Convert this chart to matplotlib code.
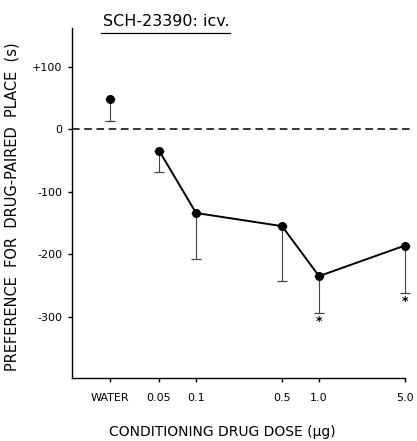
import matplotlib
matplotlib.use("Agg")
import matplotlib.pyplot as plt
import numpy as np

# Data
tick_labels = ["WATER", "0.05", "0.1", "0.5", "1.0", "5.0"]
water_pos = [0.02]
water_mean = [48]
water_low = [14]
doses = [0.05, 0.1, 0.5, 1.0, 5.0]
dose_mean = [-34, -134, -155, -235, -186]
dose_low = [-69, -208, -243, -294, -262]
significant = [1.0, 5.0]
yticks = [100, 0, -100, -200, -300]
ytick_labels = ["+100", "0", "-100", "-200", "-300"]

plt.rcParams['font.family'] = ['DejaVu Sans']

fig = plt.figure(figsize=(4.17, 4.41), dpi=100)
ax = fig.add_axes([72/417, 63/441, 340/417, 350/441])
ax.set_xscale('log')
ax.set_xlim(0.0098, 5.7)
ax.set_ylim(-398, 162)

# zero dashed line
ax.axhline(0, color='black', lw=1.1, ls=(0, (5, 3)), zorder=1)

# error bars (lower only)
all_x = water_pos + doses
all_m = water_mean + dose_mean
all_l = water_low + dose_low
err_low = [m - l for m, l in zip(all_m, all_l)]
ax.errorbar(all_x, all_m, yerr=[err_low, [0]*len(err_low)], fmt='none',
            ecolor='#444444', elinewidth=0.8, capsize=3.5, capthick=0.9, zorder=2)

ax.plot(water_pos, water_mean, 'o', color='black', ms=5.5, zorder=3)
ax.plot(doses, dose_mean, '-o', color='black', ms=5.5, lw=1.4, zorder=3)

for d in significant:
    i = doses.index(d)
    ax.annotate('*', (d, dose_low[i]), xytext=(0, -6), textcoords='offset points',
                ha='center', va='center', fontsize=9, fontweight='bold')

ax.set_xticks(all_x)
ax.set_xticklabels(tick_labels, fontsize=8)
ax.xaxis.set_minor_locator(matplotlib.ticker.NullLocator())
ax.set_yticks(yticks)
ax.set_yticklabels(ytick_labels, fontsize=8)
ax.tick_params(axis='both', direction='out', length=3, width=1)
ax.tick_params(axis='x', pad=8)
ax.tick_params(axis='y', pad=4)

for s in ['top', 'right']:
    ax.spines[s].set_visible(False)
ax.spines['bottom'].set_bounds(0.0098, 5.0)
ax.spines['left'].set_linewidth(1)
ax.spines['bottom'].set_linewidth(1)

ax.set_xlabel('CONDITIONING DRUG DOSE (µg)', fontsize=10, va='center')
ax.xaxis.set_label_coords(0.441, -0.155)
ax.set_ylabel('PREFERENCE  FOR  DRUG-PAIRED  PLACE  (s)', fontsize=10.5)
ax.yaxis.set_label_coords(-0.155, 0.49)

# underlined title
fig.text(166/417, 1 - 21/441, 'SCH-23390: icv.', ha='center', va='center', fontsize=11.5)
fig.add_artist(matplotlib.lines.Line2D([101/417, 230/417], [1 - 33/441, 1 - 33/441],
                                       color='black', lw=0.9))

fig.savefig('out.png', dpi=100)
